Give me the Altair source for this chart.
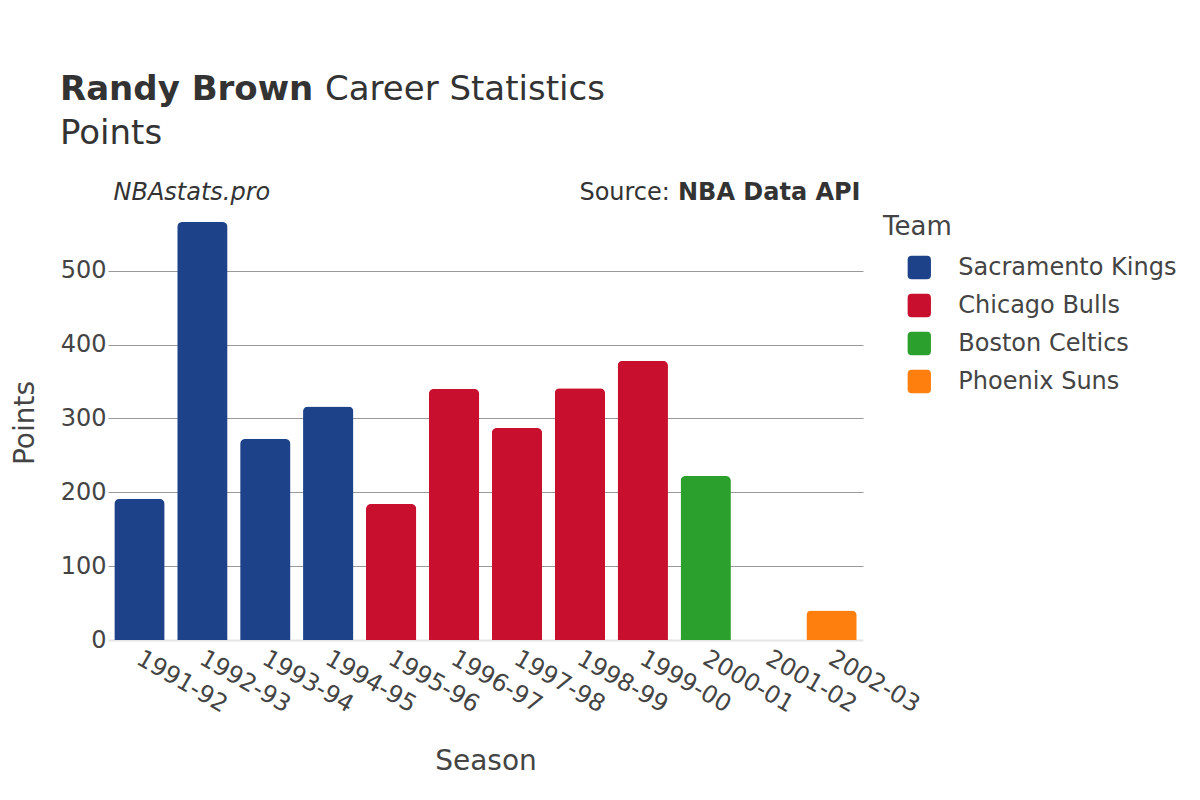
import altair as alt
import pandas as pd

seasons = ["1991-92", "1992-93", "1993-94", "1994-95", "1995-96", "1996-97",
           "1997-98", "1998-99", "1999-00", "2000-01", "2001-02", "2002-03"]
season_teams = ["Sacramento Kings", "Sacramento Kings", "Sacramento Kings", "Sacramento Kings",
                "Chicago Bulls", "Chicago Bulls", "Chicago Bulls", "Chicago Bulls", "Chicago Bulls",
                "Boston Celtics", "Boston Celtics", "Phoenix Suns"]
points = [191, 566, 272, 316, 184, 340, 287, 341, 378, 222, 0, 40]

team_order = ["Sacramento Kings", "Chicago Bulls", "Boston Celtics", "Phoenix Suns"]
team_colors = ["#1d428a", "#c8102e", "#2ca02c", "#ff7f0e"]

title_bold = ["Randy Brown"]
title_rest = ["Career Statistics"]
subtitle = ["Points"]
watermark = ["NBAstats.pro"]
source_label = ["Source:"]
source_name = ["NBA Data API"]

df = pd.DataFrame({"Season": seasons, "Team": season_teams, "Points": points})

rounded_square = ("M -0.66,-1 L 0.66,-1 Q 1,-1 1,-0.66 L 1,0.66 Q 1,1 0.66,1 "
                  "L -0.66,1 Q -1,1 -1,0.66 L -1,-0.66 Q -1,-1 -0.66,-1 Z")

bars = alt.Chart(df).mark_bar(cornerRadiusTopLeft=5, cornerRadiusTopRight=5).encode(
    x=alt.X("Season:N", sort=seasons,
            scale=alt.Scale(paddingInner=0.2, paddingOuter=0.1),
            axis=alt.Axis(title="Season", labelAngle=30, labelAlign="left", labelBaseline="top",
                          labelFontSize=24, labelColor="#444", labelPadding=6, labelOffset=5,
                          domain=False, ticks=False, grid=False,
                          titleFontSize=28, titleFontWeight="normal", titleColor="#444",
                          titleY=129, titleBaseline="alphabetic")),
    y=alt.Y("Points:Q", scale=alt.Scale(domain=[0, 589], nice=False),
            axis=alt.Axis(title="Points", values=[0, 100, 200, 300, 400, 500],
                          labelFontSize=24, labelColor="#444", labelPadding=2,
                          domain=False, ticks=False,
                          gridColor={"condition": {"test": "datum.value === 0", "value": "#e5e5e5"}, "value": "#999999"},
                          gridWidth={"condition": {"test": "datum.value === 0", "value": 2}, "value": 1},
                          titleFontSize=28, titleFontWeight="normal", titleColor="#444",
                          titleX=-75, titleY=217.5, titleAngle=270, titleBaseline="alphabetic",
                          titleAlign="center")),
    color=alt.Color("Team:N", scale=alt.Scale(domain=team_order, range=team_colors),
                    legend=alt.Legend(orient="none", legendX=775, legendY=8.5, title="Team",
                                      titleFontSize=26, titleFontWeight="normal", titleColor="#444",
                                      labelFontSize=24, labelColor="#444", labelLimit=400,
                                      symbolType=rounded_square, symbolSize=543, symbolOffset=24.3,
                                      symbolStrokeWidth=0, symbolOpacity=1,
                                      labelOffset=27, rowPadding=14, titlePadding=16, padding=0)),
)

def txt(values, x, y, size, weight="normal", style="normal", align="left", color="#333"):
    return alt.Chart(pd.DataFrame({"t": values})).mark_text(
        align=align, baseline="alphabetic", fontSize=size, fontWeight=weight,
        fontStyle=style, color=color
    ).encode(x=alt.value(x), y=alt.value(y), text="t:N")

t1 = txt(title_bold, -48, -105, 34, weight="bold")
t2 = txt(title_rest, 217, -105, 34)
t3 = txt(subtitle, -48, -61, 34)
t4 = txt(watermark, 5.5, -5, 24, style="italic")
t5 = txt(source_label, 471.4, -5, 24)
t6 = txt(source_name, 570, -5, 24, weight="bold")

chart = alt.layer(bars, t1, t2, t3, t4, t5, t6).properties(
    width=755, height=435,
    padding={"left": 100, "top": 197, "right": 329, "bottom": 152},
    autosize=alt.AutoSizeParams(type="none"),
    background="white",
).configure(font="DejaVu Sans").configure_view(stroke=None)

chart.save("out.html", embed_options={"renderer": "svg", "actions": False})
